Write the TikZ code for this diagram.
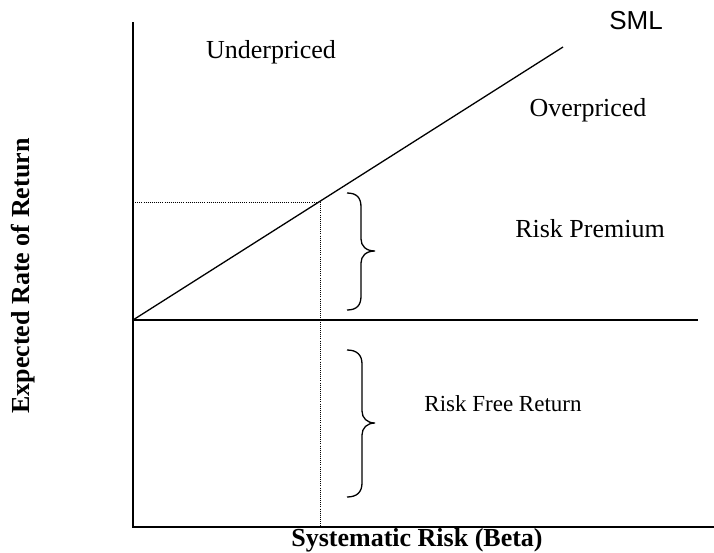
\documentclass[tikz,border=0pt]{standalone}
\usepackage{fontspec}
\setmainfont{Liberation Serif}
\newfontfamily\smlfont{Liberation Sans}
\usepackage{tikz}

\begin{document}
\begin{tikzpicture}[
  x=1pt,y=-1pt,
  font=\fontsize{26}{30}\selectfont,
  axis/.style={draw=black,line width=1.6pt},
  sml/.style={draw=black,line width=1.3pt},
  guide/.style={draw=black,line width=1pt,dash pattern=on 1pt off 1.1pt},
  brc/.style={draw=black,line width=1.3pt},
  lbl/.style={inner sep=0pt},
  axlbl/.style={inner sep=0pt,font=\fontsize{26}{30}\selectfont\bfseries},
]
\useasboundingbox (0,0) rectangle (714,552);

% axes and lines
\coordinate (top) at (133,22);
\coordinate (corner) at (133,527);
\coordinate (xend) at (714,527);
\coordinate (orig) at (133,320);
\coordinate (rfend) at (698,320);
\coordinate (smlend) at (563,47);
\coordinate (pt) at (320,202);
\coordinate (py) at (133,202);
\coordinate (px) at (320,527);

\draw[axis] (top) -- (corner) -- (xend);
\draw[sml] (orig) -- (rfend);
\draw[sml] (orig) -- (smlend);
\draw[guide] (py) -- (pt) -- (px);

% braces
\draw[brc] (347,193) .. controls (357,193) and (361,198) .. (361,207) -- (361,239)
  .. controls (361,246) and (366,251) .. (375,251)
  .. controls (366,251) and (361,256) .. (361,263) -- (361,296)
  .. controls (361,305) and (357,310) .. (347,310);
\draw[brc] (347,350) .. controls (357,350) and (362,355) .. (362,364) -- (362,411)
  .. controls (362,418) and (367,423) .. (375,423)
  .. controls (367,423) and (362,428) .. (362,435) -- (362,483)
  .. controls (362,492) and (357,497) .. (347,497);

% labels
\node[lbl] (under) at (271,52) {Underpriced};
\node[lbl] (over) at (588,110) {Overpriced};
\node[lbl,font=\fontsize{26}{30}\smlfont] (smllbl) at (636,21) {SML};
\node[lbl] (prem) at (590,229) {Risk Premium};
\node[lbl,font=\fontsize{23}{27}\selectfont] (rfree) at (503,404) {Risk Free Return};
\node[axlbl] (xlbl) at (417,540) {Systematic Risk (Beta)};
\node[axlbl,rotate=90] (ylbl) at (23,276) {Expected Rate of Return};
\end{tikzpicture}
\end{document}
